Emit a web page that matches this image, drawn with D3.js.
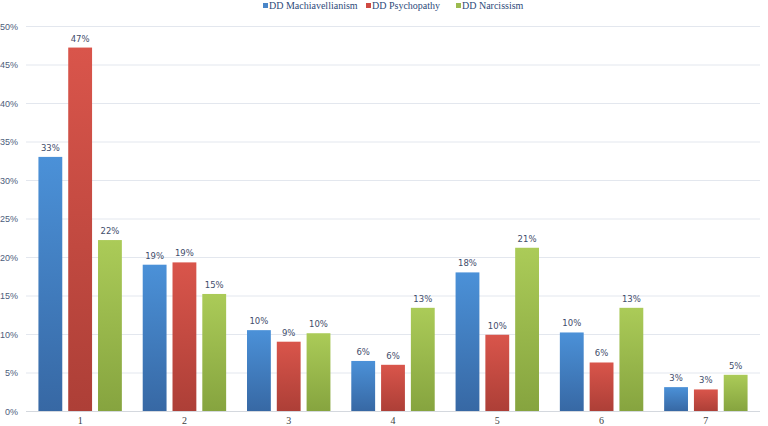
<!DOCTYPE html>
<html><head><meta charset="utf-8">
<script src="https://cdn.jsdelivr.net/npm/d3@7"></script>
<style>body{margin:0;background:#fff}svg{display:block}</style>
</head><body>
<svg id="c" width="768" height="426"></svg>
<script>
const categories = ["1","2","3","4","5","6","7"];
const seriesNames = ["DD Machiavellianism","DD Psychopathy","DD Narcissism"];
const machiavellianism = [33.0, 19.0, 10.5, 6.5, 18.0, 10.2, 3.1];
const psychopathy = [47.2, 19.3, 9.0, 6.0, 9.9, 6.3, 2.8];
const narcissism = [22.2, 15.2, 10.1, 13.4, 21.2, 13.4, 4.7];
const labelsMach = ["33%","19%","10%","6%","18%","10%","3%"];
const labelsPsy = ["47%","19%","9%","6%","10%","6%","3%"];
const labelsNar = ["22%","15%","10%","13%","21%","13%","5%"];
const yTicks = [0,5,10,15,20,25,30,35,40,45,50];

const series = [
  {name: seriesNames[0], values: machiavellianism, labels: labelsMach, top:"#4b91d8", bot:"#3768a4", key:"#4a86c8"},
  {name: seriesNames[1], values: psychopathy, labels: labelsPsy, top:"#d9554b", bot:"#ad3f37", key:"#cf4a42"},
  {name: seriesNames[2], values: narcissism, labels: labelsNar, top:"#abcb58", bot:"#86a43f", key:"#9cbb4f"}
];

const svg = d3.select("#c");
const x0 = d3.scaleBand().domain(categories).range([28, 758]).paddingInner(0.2).paddingOuter(0.1);
const x1 = d3.scaleBand().domain(d3.range(3)).range([0, x0.bandwidth()]).paddingInner(0.2).paddingOuter(0);
const y = d3.scaleLinear().domain([0, 50]).range([411, 26]);

const defs = svg.append("defs");
series.forEach((s,i)=>{
  const g = defs.append("linearGradient").attr("id","g"+i).attr("x1",0).attr("y1",0).attr("x2",0).attr("y2",1);
  g.append("stop").attr("offset","0%").attr("stop-color",s.top);
  g.append("stop").attr("offset","100%").attr("stop-color",s.bot);
});

// gridlines
svg.append("g").selectAll("line").data(yTicks.slice(1)).join("line")
  .attr("x1",26).attr("x2",760).attr("y1",d=>y(d)+0.5).attr("y2",d=>y(d)+0.5)
  .attr("stroke","#e3e7ee").attr("stroke-width",1);

// y labels
svg.append("g").selectAll("text").data(yTicks).join("text")
  .attr("x",18).attr("y",d=>y(d)+3.5).attr("text-anchor","end")
  .attr("font-family","Liberation Sans, Arial, sans-serif").attr("font-size",9).attr("fill","#4d5d7c")
  .text(d=>d+"%");

// bars
const groups = svg.append("g").selectAll("g").data(categories).join("g")
  .attr("transform",d=>`translate(${x0(d)},0)`);
groups.each(function(cat, ci){
  const g = d3.select(this);
  series.forEach((s,si)=>{
    g.append("rect").attr("x",x1(si)).attr("y",y(s.values[ci]))
      .attr("width",x1.bandwidth()).attr("height",y(0)-y(s.values[ci]))
      .attr("fill",`url(#g${si})`);
    g.append("text").attr("x",x1(si)+x1.bandwidth()/2).attr("y",y(s.values[ci])-6)
      .attr("text-anchor","middle").attr("font-family","DejaVu Sans, sans-serif")
      .attr("font-size",8.5).attr("fill","#3f4d6b").text(s.labels[ci]);
  });
});

// x axis line
svg.append("line").attr("x1",26).attr("x2",760).attr("y1",411.5).attr("y2",411.5).attr("stroke","#d4d8de");

// x labels
svg.append("g").selectAll("text").data(categories).join("text")
  .attr("x",d=>x0(d)+x0.bandwidth()/2).attr("y",424).attr("text-anchor","middle")
  .attr("font-family","Liberation Serif, serif").attr("font-size",10).attr("fill","#404040").text(d=>d);

// legend
const legX = [263, 366, 456];
const leg = svg.append("g");
series.forEach((s,i)=>{
  leg.append("rect").attr("x",legX[i]).attr("y",3).attr("width",5).attr("height",5).attr("fill",s.key);
  leg.append("text").attr("x",legX[i]+6).attr("y",9).attr("font-family","Liberation Serif, serif")
    .attr("font-size",10).attr("fill","#2d4a7a").text(s.name);
});
</script>
</body></html>
